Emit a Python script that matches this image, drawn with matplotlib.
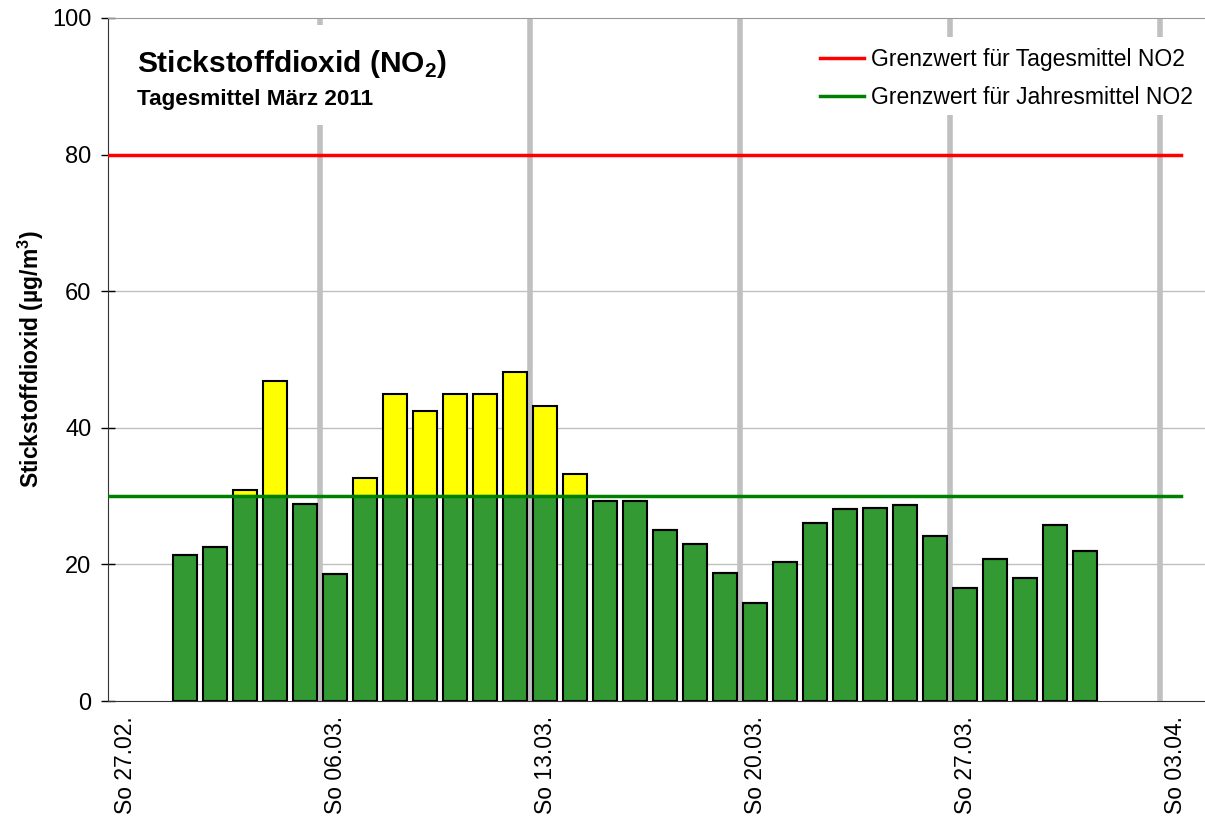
import numpy as np
import matplotlib
matplotlib.use("Agg")
import matplotlib.pyplot as plt
from matplotlib.patches import Rectangle

plt.rcParams['font.family'] = ['Liberation Sans', 'DejaVu Sans']
plt.rcParams['mathtext.fontset'] = 'custom'
plt.rcParams['mathtext.rm'] = 'Liberation Sans'
plt.rcParams['mathtext.bf'] = 'Liberation Sans:bold'

# x positions: day index, 0 = So 27.02.
tick_pos = [0, 7, 14, 21, 28, 35]
tick_labels = ['So 27.02.', 'So 06.03.', 'So 13.03.', 'So 20.03.', 'So 27.03.', 'So 03.04.']

days = list(range(2, 33))  # 01.03. - 31.03.
no2 = [21.4, 22.6, 30.9, 46.8, 28.9, 18.6, 32.7, 45.0, 42.5, 45.0,
       45.0, 48.1, 43.2, 33.3, 29.3, 29.3, 25.1, 23.0, 18.8, 14.3,
       20.4, 26.0, 28.1, 28.2, 28.7, 24.2, 16.6, 20.8, 18.0, 25.7, 22.0]

limit_day = 80
limit_year = 30

fig = plt.figure(figsize=(12.05, 8.21), dpi=100)
ax = fig.add_axes([108/1205, 1 - 701/821, 1097/1205, 683/821])

no2 = np.array(no2)
green = np.minimum(no2, limit_year)
yellow = np.clip(no2 - limit_year, 0, None)

ax.bar(days, green, width=0.8, color='#339933', edgecolor='black', linewidth=1.5, zorder=3)
ax.bar(days, yellow, bottom=green, width=0.8, color='#ffff00', edgecolor='black', linewidth=1.5, zorder=3)

# weekly lines at the start of each Sunday
for p in tick_pos[1:]:
    ax.axvline(p - 0.5, color='#c0c0c0', linewidth=4, zorder=1)
for y in [20, 40, 60]:
    ax.axhline(y, color='#c0c0c0', linewidth=1, zorder=0.5)

xl = -0.57
ax.plot([xl, 35.2], [limit_day, limit_day], color='#ff0000', linewidth=2.5, zorder=4,
        label='Grenzwert für Tagesmittel NO2')
ax.plot([xl, 35.2], [limit_year, limit_year], color='#008000', linewidth=2.5, zorder=4,
        label='Grenzwert für Jahresmittel NO2')

# white boxes for title and legend
ax.add_patch(Rectangle((0, 0.843), 0.32, 0.147, transform=ax.transAxes,
                       facecolor='white', edgecolor='none', zorder=2))
ax.add_patch(Rectangle((0.64, 0.858), 0.36, 0.114, transform=ax.transAxes,
                       facecolor='white', edgecolor='none', zorder=2))

ax.text(0.026, 0.921, r'Stickstoffdioxid (NO$_\mathbf{2}$)', transform=ax.transAxes,
        fontsize=21.5, fontweight='bold', va='baseline', zorder=5)
ax.text(0.026, 0.873, 'Tagesmittel März 2011', transform=ax.transAxes,
        fontsize=16.2, fontweight='bold', va='baseline', zorder=5)

leg = ax.legend(loc='upper right', bbox_to_anchor=(0.997, 0.969), borderaxespad=0,
                frameon=False, fontsize=16.5, handlelength=1.9, handletextpad=0.3,
                labelspacing=0.62)
leg.set_zorder(6)

ax.set_xlim(xl, 36.0)
ax.set_ylim(0, 100)
ax.set_yticks([0, 20, 40, 60, 80, 100])
ax.set_xticks(tick_pos)
ax.set_xticklabels(tick_labels, rotation=90, fontsize=16.5)
ax.tick_params(axis='y', labelsize=17, length=10, direction='inout', width=1, pad=7)
ax.tick_params(axis='x', length=0, pad=11)

ax.set_ylabel(r'Stickstoffdioxid (µg/m$\mathbf{^3}$)', fontsize=16.5, fontweight='bold', labelpad=4)

ax.spines['right'].set_visible(False)
ax.spines['top'].set_color('#999999')
ax.spines['left'].set_color('#333333')
ax.spines['bottom'].set_color('#333333')

fig.savefig('out.png', dpi=100)
